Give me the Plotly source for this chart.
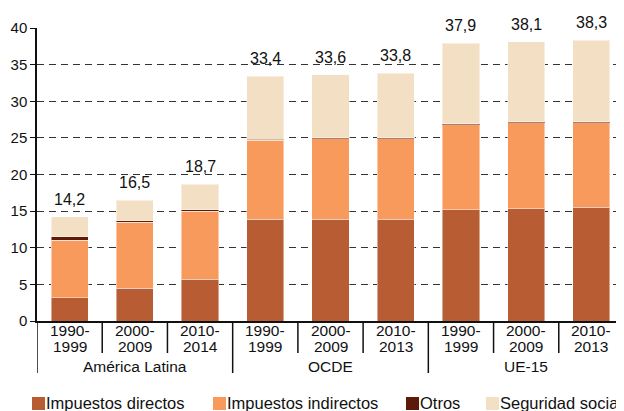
import plotly.graph_objects as go

# data
groups = ["América Latina"] * 3 + ["OCDE"] * 3 + ["UE-15"] * 3
periods = ["1990-1999", "2000-2009", "2010-2014",
           "1990-1999", "2000-2009", "2010-2013",
           "1990-1999", "2000-2009", "2010-2013"]

directos = [3.2, 4.5, 5.7, 13.9, 13.9, 13.9, 15.2, 15.3, 15.5]
indirectos = [7.8, 9.0, 9.3, 10.75, 10.95, 10.95, 11.6, 11.75, 11.55]
otros = [0.5, 0.2, 0.2, 0.15, 0.15, 0.15, 0.15, 0.15, 0.15]
seguridad = [2.7, 2.8, 3.5, 8.6, 8.6, 8.8, 10.95, 10.9, 11.1]
totales = [14.2, 16.5, 18.7, 33.4, 33.6, 33.8, 37.9, 38.1, 38.3]

series = [
    ("Impuestos directos", directos, "#B85C33"),
    ("Impuestos indirectos", indirectos, "#F79A5C"),
    ("Otros", otros, "#5E1A08"),
    ("Seguridad social", seguridad, "#F2DFC4"),
]

# the page body has an 8px margin, so the figure is drawn 8px in from the corner
OFF = 8
W, H = 624 - OFF, 411 - OFF
PLOT_L, PLOT_R, PLOT_T, PLOT_B = 37, 624, 28, 321  # window pixels
FONT = "Liberation Sans, Arial, sans-serif"
DARK = "#111"


def px_x(px):
    return (px - PLOT_L) / (PLOT_R - PLOT_L)


def px_y(py):
    return (PLOT_B - py) / (PLOT_B - PLOT_T)


cats = [f"{g}|{p}" for g, p in zip(groups, periods)]

fig = go.Figure()
for name, vals, color in series:
    fig.add_trace(go.Bar(
        x=cats, y=vals, name=name,
        marker=dict(color=color, line=dict(color="rgba(255,255,255,0.45)", width=1)),
        showlegend=False,
    ))

# total labels above the bars
for c, t in zip(cats, totales):
    fig.add_annotation(
        x=c, y=t, text=f"{t:.1f}".replace(".", ","),
        showarrow=False, yanchor="bottom", yshift=7,
        font=dict(family=FONT, size=16, color=DARK),
    )

# two-line period labels under each bar
for c, p in zip(cats, periods):
    a, b = p.split("-")
    for line, py in ((a + "-", 330), (b, 346)):
        fig.add_annotation(
            x=c, xref="x", yref="paper", y=px_y(py), text=line,
            showarrow=False, yanchor="middle",
            font=dict(family=FONT, size=15.5, color=DARK),
        )

# group labels and separators
names = list(dict.fromkeys(groups))
for g in names:
    idx = [i for i, gg in enumerate(groups) if gg == g]
    fig.add_annotation(
        x=cats[idx[len(idx) // 2]], xref="x", yref="paper", y=px_y(366),
        text=g, showarrow=False, yanchor="middle",
        font=dict(family=FONT, size=15.5, color=DARK),
    )
for i in range(len(cats) + 1):
    edge = i == 0 or i == len(cats) or groups[i] != groups[i - 1]
    fig.add_shape(
        type="line", xref="x", yref="paper",
        x0=i - 0.5, x1=i - 0.5, y0=0, y1=px_y(373 if edge else 353),
        line=dict(color=DARK, width=1.5),
    )

# legend drawn by hand so it keeps the compact spacing of the original
legend_x = [32, 213, 406, 486]
for (name, vals, color), lx in zip(series, legend_x):
    fig.add_shape(
        type="rect", xref="paper", yref="paper",
        x0=px_x(lx), x1=px_x(lx + 13), y0=px_y(397), y1=px_y(410),
        fillcolor=color, line=dict(width=0),
    )
    fig.add_annotation(
        xref="paper", yref="paper", x=px_x(lx + 14), y=px_y(403),
        text=name, showarrow=False, xanchor="left", yanchor="middle",
        xshift=-2,
        font=dict(family=FONT, size=16.5, color=DARK),
    )

fig.update_layout(
    barmode="stack",
    bargap=0.43,
    width=W, height=H,
    margin=dict(l=PLOT_L - OFF, r=0, t=PLOT_T - OFF, b=H - (PLOT_B - OFF)),
    plot_bgcolor="white",
    paper_bgcolor="white",
    font=dict(family=FONT, size=15, color=DARK),
)
fig.update_yaxes(
    range=[0, 40], dtick=5,
    showgrid=True, gridcolor="#333", griddash="7px,5px", gridwidth=1,
    showline=True, linecolor=DARK, linewidth=1.5,
    ticks="outside", ticklen=5, tickcolor=DARK,
    zeroline=False,
    tickfont=dict(family=FONT, size=15, color=DARK),
)
fig.update_xaxes(
    range=[-0.5, len(cats) - 0.5],
    showline=True, linecolor=DARK, linewidth=1.5,
    showticklabels=False, ticks="",
)

fig.write_html("out.html")
